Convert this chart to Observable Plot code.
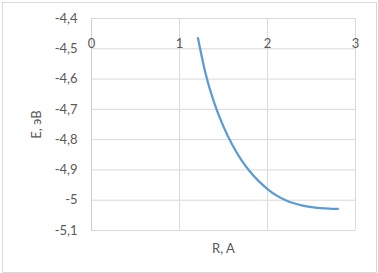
<!DOCTYPE html>
<html>
<head>
<meta charset="utf-8">
<script src="https://cdn.jsdelivr.net/npm/d3@7"></script>
<script src="https://cdn.jsdelivr.net/npm/@observablehq/plot@0.6"></script>
<style>
  body { margin: 0; background: #fff; }
  #wrap { position: relative; width: 378px; height: 273px; }
  #border { position: absolute; left: 2px; top: 2px; width: 373px; height: 269px; border: 1px solid #d9d9d9; pointer-events: none; }
</style>
</head>
<body>
<div id="wrap"><div id="border"></div></div>
<script>
const R = [1.21, 1.3, 1.4, 1.5, 1.6, 1.7, 1.8, 1.9, 2.0, 2.1, 2.2, 2.3, 2.4, 2.5, 2.6, 2.7, 2.8];
const E = [-4.465, -4.586, -4.683, -4.757, -4.817, -4.866, -4.905, -4.937, -4.963, -4.984, -4.999, -5.010, -5.018, -5.023, -5.026, -5.028, -5.029];
const xTicks = [0, 1, 2, 3];
const yTicks = [-4.4, -4.5, -4.6, -4.7, -4.8, -4.9, -5.0, -5.1];
const yTickLabels = ["-4,4", "-4,5", "-4,6", "-4,7", "-4,8", "-4,9", "-5", "-5,1"];
const xLabel = "R, A";
const yLabel = "E, эВ";

const data = R.map((r, i) => ({r, e: E[i]}));
const grid = "#d9d9d9";
const txt = "#595959";

const chart = Plot.plot({
  width: 378,
  height: 273,
  marginLeft: 91,
  marginRight: 23,
  marginTop: 18,
  marginBottom: 43,
  style: {fontFamily: "Lato, 'Open Sans', sans-serif", fontSize: "13px", color: txt, background: "transparent"},
  x: {domain: [0, 3]},
  y: {domain: [-5.1, -4.4]},
  marks: [
    Plot.gridY(yTicks, {stroke: grid, strokeOpacity: 1}),
    Plot.gridX(xTicks.slice(1), {stroke: grid, strokeOpacity: 1}),
    Plot.ruleX([0], {stroke: "#cfcfcf"}),
    Plot.axisY(yTicks, {
      tickSize: 0, tickPadding: 14,
      tickFormat: d => yTickLabels[yTicks.indexOf(d)],
      label: yLabel, labelAnchor: "center", labelArrow: "none", labelOffset: 60,
      fill: txt
    }),
    Plot.axisX(xTicks, {
      anchor: "top", tickSize: 0, tickPadding: 0, lineAnchor: "middle", dy: 25,
      label: null, fill: txt
    }),
    Plot.axisX([], {
      anchor: "bottom", label: xLabel, labelAnchor: "center", labelArrow: "none", labelOffset: 22, fill: txt
    }),
    Plot.line(data, {x: "r", y: "e", stroke: "#5b9bd5", strokeWidth: 2.25, curve: "monotone-x"})
  ]
});
document.getElementById("wrap").appendChild(chart);
</script>
</body>
</html>
